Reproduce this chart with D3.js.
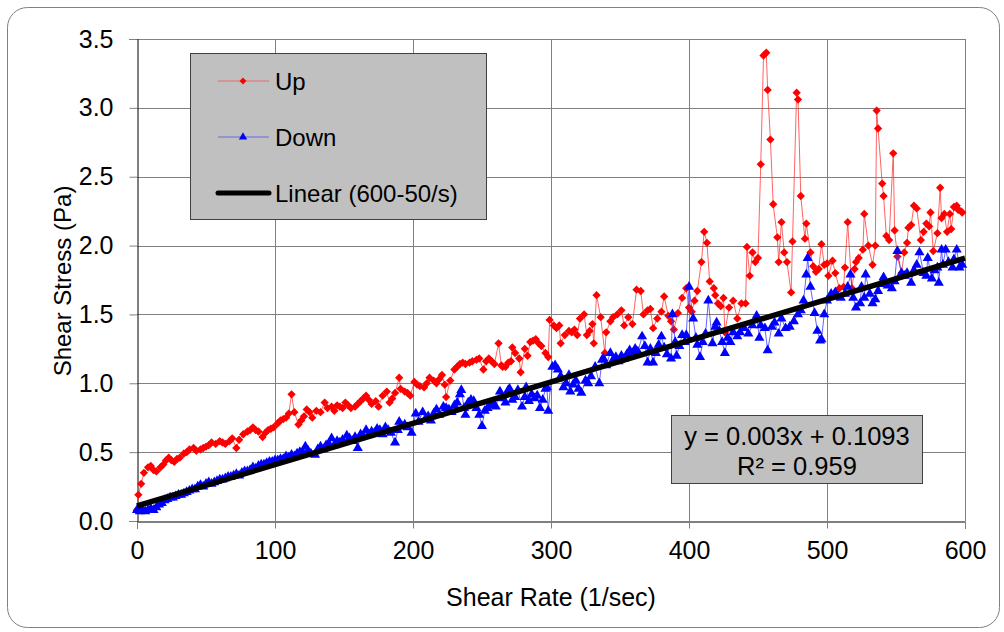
<!DOCTYPE html>
<html><head><meta charset="utf-8">
<script src="https://cdn.jsdelivr.net/npm/d3@7"></script>
<style>
html,body{margin:0;padding:0;background:#fff;}
svg text{font-family:"Liberation Sans",Arial,sans-serif;fill:#000;}
</style></head>
<body><svg id="chart" width="1004" height="632"></svg>
<script>
// ---- data ----
const upX = [0,1,3,5,8,10,12,14,17,19,21,23,25,27,29,31,34,36,38,41,43,46,48,50,52,54,57,60,62,64,67,69,72,74,77,80,82,84,86,88,91,93,95,97,99,102,104,106,108,110,112,114,117,119,121,123,125,127,130,133,136,138,141,143,145,147,149,151,153,155,158,160,162,164,166,168,170,173,175,178,181,183,185,187,190,191,194,196,198,201,203,205,208,210,212,215,217,219,221,223,224,227,230,232,234,236,238,241,243,246,248,251,253,255,257,259,262,264,265,267,269,271,272,274,277,278,281,283,285,287,289,291,293,296,298,299,302,304,306,307,310,313,315,317,319,321,324,326,328,330,331,333,336,339,340,343,345,348,351,353,356,359,362,365,367,370,372,374,377,380,382,385,387,389,392,395,398,400,402,404,406,409,411,413,415,418,419,421,423,425,426,429,432,435,438,441,442,444,446,448,450,452,454,456,457,459,461,464,465,467,469,471,474,475,478,479,481,484,485,488,490,492,494,496,498,500,501,504,506,509,512,513,515,518,520,521,523,526,527,530,533,535,536,537,540,541,543,545,548,549,551,554,556,558,559,561,563,565,568,570,572,574,575,577,580,582,583,585,587,589,590,592,594,595,597,598];
const upY = [0.08,0.19,0.27,0.35,0.39,0.40,0.37,0.36,0.39,0.41,0.44,0.46,0.44,0.43,0.45,0.46,0.49,0.50,0.52,0.53,0.51,0.52,0.53,0.54,0.55,0.57,0.56,0.58,0.57,0.56,0.58,0.60,0.53,0.59,0.63,0.65,0.66,0.68,0.66,0.65,0.61,0.64,0.66,0.67,0.68,0.71,0.73,0.74,0.75,0.78,0.92,0.79,0.70,0.73,0.76,0.81,0.79,0.75,0.80,0.79,0.86,0.82,0.83,0.80,0.84,0.83,0.82,0.86,0.84,0.82,0.83,0.85,0.87,0.89,0.91,0.88,0.85,0.87,0.83,0.91,0.94,0.86,0.89,0.93,1.04,0.96,0.94,0.93,0.91,1.01,0.99,0.98,0.97,1.00,1.04,1.02,1.00,1.03,1.06,0.99,0.90,1.02,1.10,1.12,1.14,1.15,1.14,1.15,1.16,1.17,1.18,1.10,1.16,1.18,1.16,1.14,1.29,1.13,1.12,1.12,1.15,1.16,1.26,1.22,1.18,1.08,1.25,1.20,1.30,1.31,1.32,1.29,1.27,1.22,1.19,1.46,1.42,1.40,1.42,1.29,1.35,1.38,1.37,1.39,1.35,1.47,1.50,1.35,1.38,1.43,1.29,1.64,1.48,1.22,1.37,1.45,1.48,1.50,1.53,1.42,1.48,1.43,1.68,1.67,1.50,1.53,1.54,1.40,1.47,1.52,1.63,1.49,1.45,1.39,1.51,1.62,1.69,1.55,1.52,1.60,1.67,1.88,2.10,2.02,1.74,1.69,1.64,1.58,1.56,1.62,1.37,1.55,1.60,1.47,1.58,1.58,1.99,1.78,1.95,1.88,1.91,2.59,3.38,3.40,3.13,2.77,2.30,2.06,1.88,2.17,1.95,1.88,1.66,2.03,3.11,3.06,2.36,2.05,2.16,1.95,1.85,1.81,1.83,2.01,1.86,1.87,1.78,1.89,1.80,1.69,1.70,1.84,2.17,1.69,1.83,1.88,1.91,1.97,2.23,2.00,1.86,2.00,2.98,2.85,2.45,2.36,2.07,2.04,2.67,2.11,1.92,1.80,1.95,2.02,2.13,2.15,2.29,2.27,2.04,2.10,2.16,2.14,2.24,1.96,2.09,2.42,2.20,2.23,2.10,2.23,2.12,2.28,2.29,2.26,2.25,2.24];
const downX = [0,2,4,6,8,10,12,14,16,18,20,22,24,26,28,30,32,34,36,38,40,42,44,46,48,50,52,54,56,58,60,62,64,66,68,70,72,74,76,78,80,82,84,86,88,90,92,94,96,98,100,102,104,106,108,110,112,114,116,118,120,122,124,126,129,131,133,135,137,139,141,143,145,147,149,152,154,156,158,160,162,164,166,168,170,172,174,176,178,180,182,184,187,189,190,192,194,196,199,202,204,207,209,211,213,215,217,219,222,224,226,228,230,232,234,235,237,238,240,242,244,246,248,250,252,254,256,258,260,263,265,267,269,270,272,274,276,279,281,282,284,286,288,290,292,294,296,297,298,301,303,305,307,309,311,313,314,316,318,320,322,325,327,329,332,335,337,338,340,343,345,347,349,351,353,355,357,359,361,363,366,368,370,372,374,376,378,380,382,384,387,388,390,391,393,395,397,398,400,403,405,406,408,410,412,414,417,419,420,422,424,426,428,430,432,435,437,440,443,446,449,451,452,455,457,460,462,465,467,470,473,476,479,481,483,485,486,488,491,493,495,496,498,500,503,506,508,510,513,515,517,519,521,524,525,527,528,531,533,535,537,539,541,544,547,549,551,554,556,558,561,563,565,567,570,572,573,576,578,580,581,583,584,586,588,591,592,594,596,598];
const downY = [0.08,0.07,0.08,0.07,0.08,0.09,0.08,0.10,0.12,0.13,0.15,0.16,0.17,0.17,0.18,0.19,0.19,0.20,0.21,0.22,0.23,0.23,0.25,0.26,0.25,0.27,0.28,0.27,0.28,0.29,0.30,0.30,0.31,0.32,0.32,0.33,0.34,0.33,0.35,0.36,0.36,0.37,0.39,0.38,0.40,0.41,0.41,0.42,0.43,0.43,0.44,0.44,0.45,0.45,0.47,0.46,0.48,0.47,0.49,0.50,0.50,0.54,0.51,0.49,0.48,0.52,0.54,0.52,0.55,0.56,0.60,0.55,0.58,0.57,0.59,0.62,0.60,0.58,0.61,0.53,0.63,0.62,0.66,0.63,0.65,0.64,0.67,0.66,0.63,0.68,0.66,0.64,0.57,0.66,0.72,0.69,0.70,0.68,0.64,0.78,0.72,0.79,0.74,0.76,0.73,0.78,0.81,0.77,0.83,0.82,0.81,0.79,0.84,0.86,0.92,0.95,0.82,0.77,0.86,0.88,0.87,0.82,0.77,0.69,0.80,0.82,0.84,0.86,0.83,0.94,0.89,0.86,0.95,0.96,0.88,0.90,0.95,0.83,0.90,0.97,0.87,0.92,0.89,0.91,0.82,0.88,0.96,0.97,0.80,1.12,1.13,1.10,1.05,0.97,1.00,1.06,0.94,0.99,1.02,0.96,0.93,1.02,1.00,1.05,1.12,1.00,1.17,1.18,1.13,1.22,1.17,1.19,1.16,1.20,1.18,1.21,1.24,1.22,1.25,1.23,1.34,1.27,1.15,1.25,1.15,1.22,1.28,1.34,1.26,1.21,1.18,1.50,1.30,1.20,1.27,1.35,1.30,1.35,1.70,1.47,1.33,1.28,1.19,1.30,1.36,1.60,1.29,1.41,1.44,1.38,1.30,1.22,1.33,1.30,1.37,1.34,1.37,1.40,1.36,1.42,1.49,1.33,1.42,1.40,1.24,1.41,1.44,1.36,1.47,1.40,1.41,1.45,1.50,1.53,1.60,1.79,1.91,1.70,1.51,1.38,1.31,1.32,1.50,1.60,1.65,1.66,1.63,1.62,1.65,1.70,1.79,1.62,1.55,1.58,1.70,1.62,1.79,1.65,1.58,1.61,1.67,1.72,1.77,1.71,1.69,1.74,1.96,1.80,1.78,1.80,1.73,1.82,1.86,1.95,1.80,1.78,1.91,1.76,1.82,1.84,1.73,1.97,1.86,1.97,1.88,1.84,1.90,1.97,1.84,1.86];
const fitSlope = 0.003, fitIntercept = 0.1093, fitR2 = 0.959;
const fitRange = [0, 600];
const xTicks = [0,100,200,300,400,500,600];
const yTicks = [0.0,0.5,1.0,1.5,2.0,2.5,3.0,3.5];
const seriesNames = ["Up","Down","Linear (600-50/s)"];

// ---- layout ----
const svg = d3.select("#chart");
const L = 137, R = 965, T = 39, B = 521;
const x = d3.scaleLinear().domain([0,600]).range([L,R]);
const y = d3.scaleLinear().domain([0,3.5]).range([B,T]);

// outer rounded frame
svg.append("rect").attr("x",7.5).attr("y",7.5).attr("width",992).attr("height",620)
  .attr("rx",20).attr("ry",20).attr("fill","#fff").attr("stroke","#808080").attr("stroke-width",1);

// gridlines
const grid = svg.append("g");
grid.selectAll(".gx").data(xTicks.slice(1)).join("line")
  .attr("x1",d=>Math.round(x(d))+0.5).attr("x2",d=>Math.round(x(d))+0.5)
  .attr("y1",T).attr("y2",B).attr("stroke","#808080").attr("stroke-width",1);
grid.selectAll(".gy").data(yTicks.slice(1)).join("line")
  .attr("y1",d=>Math.round(y(d))+0.5).attr("y2",d=>Math.round(y(d))+0.5)
  .attr("x1",L).attr("x2",R).attr("stroke","#808080").attr("stroke-width",1);

// axes
const xAxis = d3.axisBottom(x).tickValues(xTicks).tickSize(7).tickPadding(13).tickFormat(d3.format("d"));
const yAxis = d3.axisLeft(y).tickValues(yTicks).tickSize(8).tickPadding(16).tickFormat(d3.format(".1f"));
const gx = svg.append("g").attr("transform",`translate(0,${B+0.5})`).call(xAxis);
const gy = svg.append("g").attr("transform",`translate(${L+0.5},0)`).call(yAxis);
[gx,gy].forEach(g=>{
  g.select(".domain").attr("stroke","#000").attr("stroke-width",1);
  g.selectAll(".tick line").attr("stroke","#808080");
  g.selectAll(".tick text").attr("font-size","25px").attr("font-family","Liberation Sans, Arial, sans-serif").attr("fill","#000");
});

// axis titles
svg.append("text").attr("x",551).attr("y",606).attr("text-anchor","middle").attr("font-size","25px").text("Shear Rate (1/sec)");
svg.append("text").attr("transform","translate(71,281) rotate(-90)").attr("text-anchor","middle").attr("font-size","24px").text("Shear Stress (Pa)");

const plot = svg.append("g");
const upData = upX.map((v,i)=>[v,upY[i]]);
const downData = downX.map((v,i)=>[v,downY[i]]);
const line = d3.line().x(d=>x(d[0])).y(d=>y(d[1]));

// Up series
plot.append("path").datum(upData).attr("d",line).attr("fill","none").attr("stroke","#ff3030").attr("stroke-opacity",0.75).attr("stroke-width",1);
plot.selectAll(".up").data(upData).join("path")
  .attr("transform",d=>`translate(${x(d[0])},${y(d[1])})`)
  .attr("d",d3.symbol().type(d3.symbolDiamond2).size(44)).attr("fill","#ff0000");

// Down series
plot.append("path").datum(downData).attr("d",line).attr("fill","none").attr("stroke","#3030ff").attr("stroke-opacity",0.75).attr("stroke-width",1);
plot.selectAll(".down").data(downData).join("path")
  .attr("transform",d=>`translate(${x(d[0])},${y(d[1])})`)
  .attr("d",d3.symbol().type(d3.symbolTriangle).size(44)).attr("fill","#0000ff");

// Linear fit
const fitData = fitRange.map(v=>[v, fitSlope*v+fitIntercept]);
plot.append("path").datum(fitData).attr("d",line).attr("fill","none").attr("stroke","#000").attr("stroke-width",5.5);

// legend
const lg = svg.append("g");
lg.append("rect").attr("x",190.5).attr("y",53.5).attr("width",296).attr("height",166).attr("fill","#c0c0c0").attr("stroke","#404040");
const ly = [81,137,193];
lg.append("line").attr("x1",218).attr("x2",269).attr("y1",ly[0]).attr("y2",ly[0]).attr("stroke","#ff3030").attr("stroke-opacity",0.6);
lg.append("path").attr("transform",`translate(243,${ly[0]})`).attr("d",d3.symbol().type(d3.symbolDiamond2).size(30)).attr("fill","#ff0000");
lg.append("line").attr("x1",218).attr("x2",269).attr("y1",ly[1]).attr("y2",ly[1]).attr("stroke","#3030ff").attr("stroke-opacity",0.6);
lg.append("path").attr("transform",`translate(243,${ly[1]})`).attr("d",d3.symbol().type(d3.symbolTriangle).size(30)).attr("fill","#0000ff");
lg.append("line").attr("x1",218).attr("x2",269).attr("y1",ly[2]).attr("y2",ly[2]).attr("stroke","#000").attr("stroke-width",5).attr("stroke-linecap","round");
seriesNames.forEach((n,i)=>{
  lg.append("text").attr("x",275).attr("y",ly[i]+8.5).attr("font-size","24px").text(n);
});

// equation box
const eq = svg.append("g");
eq.append("rect").attr("x",671.5).attr("y",415.5).attr("width",251).attr("height",68).attr("fill","#c0c0c0").attr("stroke","#404040");
eq.append("text").attr("x",797).attr("y",445).attr("text-anchor","middle").attr("font-size","25.5px")
  .text(`y = ${fitSlope}x + ${fitIntercept}`);
eq.append("text").attr("x",797).attr("y",475).attr("text-anchor","middle").attr("font-size","25.5px")
  .text(`R² = ${fitR2}`);
</script>
</body></html>
